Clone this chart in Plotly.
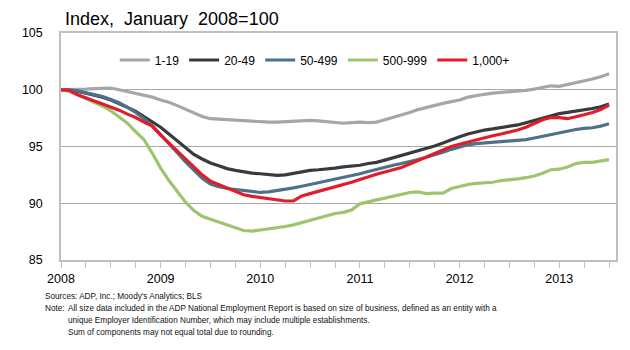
import plotly.graph_objects as go

start_year = 2008
series_names = ["1-19", "20-49", "50-499", "500-999", "1,000+"]
series_colors = ["#A6A6A6", "#383B3E", "#4E7189", "#9DC46E", "#E21D2B"]

s_1_19 = [100.0, 100.0, 100.0, 100.05, 100.1, 100.1, 100.15, 100.0, 99.85, 99.7, 99.55, 99.35,
          99.1, 98.9, 98.6, 98.3, 98.0, 97.65, 97.45, 97.4, 97.35, 97.35, 97.3, 97.25,
          97.2, 97.15, 97.15, 97.2, 97.25, 97.3, 97.3, 97.25, 97.2, 97.1, 97.05, 97.1,
          97.15, 97.1, 97.15, 97.35, 97.55, 97.8, 98.0, 98.25, 98.45, 98.6, 98.8, 98.95,
          99.1, 99.35, 99.5, 99.6, 99.7, 99.75, 99.85, 99.9, 99.95, 100.05, 100.2, 100.35,
          100.3, 100.45, 100.6, 100.8, 100.95, 101.15, 101.4]
s_20_49 = [100.0, 99.95, 99.85, 99.7, 99.55, 99.35, 99.1, 98.8, 98.45, 98.1, 97.65, 97.2,
           96.7, 96.1, 95.5, 94.9, 94.3, 93.9, 93.55, 93.3, 93.05, 92.9, 92.75, 92.65,
           92.6, 92.5, 92.45, 92.5, 92.65, 92.8, 92.9, 92.95, 93.0, 93.1, 93.2, 93.25,
           93.35, 93.5, 93.6, 93.8, 94.0, 94.2, 94.4, 94.6, 94.8, 95.05, 95.3, 95.6,
           95.85, 96.1, 96.3, 96.45, 96.55, 96.65, 96.8, 96.9, 97.1, 97.3, 97.55, 97.75,
           97.9, 98.0, 98.1, 98.2, 98.35, 98.5, 98.75]
s_50_499 = [100.0, 100.0, 99.9, 99.75, 99.6, 99.4, 99.15, 98.85, 98.45, 98.0, 97.45, 96.8,
            96.05, 95.2, 94.45, 93.65, 92.9, 92.2, 91.7, 91.45, 91.3, 91.2, 91.1, 91.0,
            90.95, 91.0, 91.1, 91.2, 91.35, 91.5, 91.65, 91.8, 91.95, 92.1, 92.25, 92.4,
            92.6, 92.8, 93.0, 93.2, 93.35, 93.5, 93.65, 93.85, 94.05, 94.25, 94.5, 94.75,
            94.95, 95.15, 95.25, 95.3, 95.4, 95.45, 95.5, 95.55, 95.6, 95.75, 95.9, 96.1,
            96.25, 96.4, 96.5, 96.6, 96.65, 96.8, 97.0]
s_500_999 = [100.0, 99.85, 99.55, 99.25, 98.9, 98.55, 98.15, 97.6, 97.05, 96.3, 95.6, 94.4,
             93.1, 92.0, 91.0, 90.1, 89.35, 88.85, 88.6, 88.35, 88.1, 87.85, 87.6, 87.55,
             87.65, 87.7, 87.8, 87.95, 88.1, 88.3, 88.5, 88.7, 88.95, 89.1, 89.2, 89.4,
             89.95, 90.15, 90.3, 90.45, 90.6, 90.8, 90.95, 91.0, 90.85, 90.9, 90.9, 91.3,
             91.5, 91.65, 91.75, 91.8, 91.85, 92.0, 92.05, 92.15, 92.25, 92.4, 92.65, 92.95,
             93.0, 93.2, 93.5, 93.6, 93.6, 93.75, 93.85]
s_1000p = [100.0, 99.95, 99.55, 99.25, 99.0, 98.75, 98.5, 98.2, 97.85, 97.55, 97.15, 96.8,
           96.0, 95.3, 94.6, 93.9, 93.2, 92.5, 91.95, 91.65, 91.35, 91.0, 90.75, 90.6,
           90.5, 90.4, 90.25, 90.2, 90.2, 90.65, 90.85, 91.05, 91.2, 91.4, 91.6, 91.85,
           92.1, 92.35, 92.55, 92.75, 92.95, 93.15, 93.45, 93.75, 94.05, 94.35, 94.65, 95.0,
           95.2, 95.4, 95.6, 95.8, 95.95, 96.1, 96.25, 96.45, 96.7, 97.0, 97.35, 97.55,
           97.55, 97.45, 97.6, 97.8, 98.0, 98.25, 98.65]

all_series = [s_1_19, s_20_49, s_50_499, s_500_999, s_1000p]
x_vals = [start_year + i / 12 for i in range(len(s_1_19))]

year_ticks = [2008, 2009, 2010, 2011, 2012, 2013]
y_ticks = [85, 90, 95, 100, 105]

title_text = "Index,  January  2008=100"
sources_text = "Sources: ADP, Inc.; Moody's Analytics; BLS"
note_label = "Note:"
note_lines = [
    "All size data included in the ADP National Employment Report is based on size of business, defined as an entity with a",
    "unique Employer Identification Number, which may include multiple establishments.",
    "Sum of components may not equal total due to rounding.",
]

W, H = 630, 350
L, R, T, B = 61, 12, 33, 90
pw, ph = W - L - R, H - T - B

def px(xp):
    return (xp - L) / pw

def py(yp):
    return (H - B - yp) / ph

fig = go.Figure()
for name, col, vals in zip(series_names, series_colors, all_series):
    fig.add_trace(go.Scatter(x=x_vals, y=vals, mode="lines", name=name,
                             line=dict(color=col, width=3.2)))

font_main = "Liberation Sans, Arial, sans-serif"
fig.update_layout(
    width=W, height=H,
    margin=dict(l=L, r=R, t=T, b=B),
    paper_bgcolor="white", plot_bgcolor="white",
    font=dict(family=font_main, size=12, color="#000"),
    showlegend=True,
    legend=dict(orientation="h", x=px(115), y=py(60), xanchor="left", yanchor="middle",
                font=dict(size=12, family=font_main), itemwidth=30,
                bgcolor="rgba(0,0,0,0)", traceorder="normal"),
    xaxis=dict(range=[2008, 2013.57], tickvals=year_ticks, ticktext=[str(v) for v in year_ticks],
               showgrid=False, zeroline=False, showline=True, linecolor="#BFBFBF", linewidth=1.5,
               mirror=True, ticks="outside", ticklen=6, tickcolor="#BFBFBF", tickwidth=1,
               minor=dict(dtick=0.25, tick0=2008, ticks="outside", ticklen=6, tickcolor="#BFBFBF", tickwidth=1),
               tickfont=dict(size=12.5)),
    yaxis=dict(range=[85, 105], tickvals=y_ticks, showgrid=True, gridcolor="#A8A8A8", gridwidth=1,
               zeroline=False, showline=True, linecolor="#BFBFBF", linewidth=1.5, mirror=True,
               ticks="", tickfont=dict(size=12.5), ticklabelstandoff=14),
)

foot_font = dict(size=8.2, family=font_main, color="#111")
ann = [
    dict(text=title_text, x=px(63), y=py(19), xanchor="left", yanchor="middle",
         font=dict(size=18, family=font_main)),
    dict(text=sources_text, x=px(43), y=py(296), xanchor="left", yanchor="middle", font=foot_font),
    dict(text=note_label, x=px(43), y=py(308), xanchor="left", yanchor="middle", font=foot_font),
]
for i, line in enumerate(note_lines):
    ann.append(dict(text=line, x=px(66), y=py(308 + 12 * i), xanchor="left", yanchor="middle",
                    font=foot_font))
for a in ann:
    a.update(xref="paper", yref="paper", showarrow=False, align="left")
fig.update_layout(annotations=ann)

fig.write_html("out.html")
